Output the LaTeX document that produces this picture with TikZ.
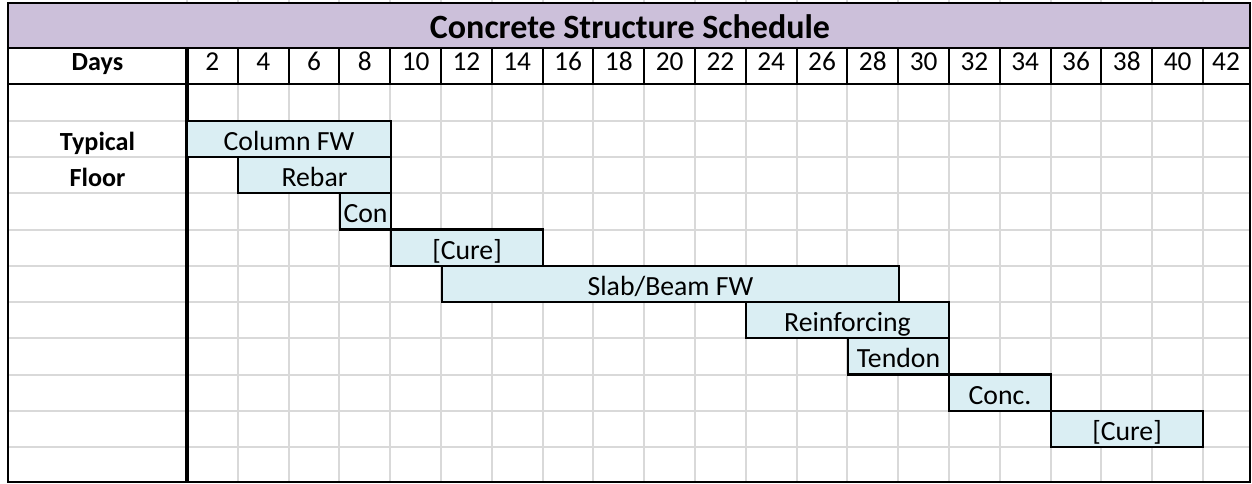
\documentclass[tikz,border=0pt]{standalone}
\usepackage{fontspec}
\setmainfont{Carlito}
\definecolor{titlefill}{HTML}{CCC0DA}
\definecolor{barfill}{HTML}{DAEEF3}
\definecolor{gridgray}{HTML}{D9D9D9}
\newcommand\ganttbar[6]{%
  \node[barbox, minimum width={(#3-#2)*0.75pt}, minimum height={(#5-#4)*0.75pt}]
    (#1) at ({(#2+#3)/2},{(#4+#5)/2}) {#6};}
\begin{document}
\begin{tikzpicture}[x=0.75pt,y=-0.75pt,
  gridline/.style={draw=gridgray, line width=1.5pt},
  blackline/.style={draw=black, line width=1.6pt},
  cell/.style={anchor=base, inner sep=0pt, font=\fontsize{20.5pt}{24pt}\selectfont},
  boldcell/.style={cell, font=\fontsize{19.6pt}{24pt}\selectfont\bfseries},
  titletext/.style={anchor=base, inner sep=0pt, font=\fontsize{25.5pt}{30pt}\selectfont\bfseries},
  barbox/.style={draw=black, line width=1.6pt, fill=barfill, inner sep=0pt,
    text height=17.25pt, text depth=0pt, font=\fontsize{20.8pt}{24pt}\selectfont}]
\useasboundingbox (0,0) rectangle (1252,483);
% title band
\fill[titlefill] (8,3) rectangle (1250,48);
% top ticks
\foreach \k in {0,...,20} \draw[gridline] ({187+50.8*\k},0) -- ({187+50.8*\k},3);
% grid
\foreach \k in {1,...,20} \draw[gridline] ({187+50.8*\k},84) -- ({187+50.8*\k},482);
\foreach \y in {121,157,193,229.5,266,302,338,374.5,411,447} \draw[gridline] (8,\y) -- (1250,\y);
% header lines
\draw[blackline] (8,48) -- (1250,48);
\draw[draw=black, line width=2.2pt] (8,84) -- (1250,84);
\foreach \k in {1,...,20} \draw[blackline] ({187+50.8*\k},48) -- ({187+50.8*\k},84);
\draw[draw=black, line width=2.4pt] (187,48) -- (187,482);
\draw[draw=black, line width=1.8pt] (8,3) rectangle (1250,482);
% title
\node[titletext] (title) at (630,38) {Concrete Structure Schedule};
% header
\node[boldcell] (days) at (97.5,70.5) {Days};
\foreach \k [evaluate=\k as \n using int(2*\k+2)] in {0,...,19}
  \node[cell] (h\n) at ({187+50.8*\k+25.4},70.5) {\n};
\node[cell] (h42) at (1226,70.5) {42};
% row labels
\node[boldcell] (typical) at (97.5,150) {Typical};
\node[boldcell] (floor) at (97.5,186) {Floor};
% bars
\ganttbar{cfw}{187}{391}{121}{157}{Column FW}
\ganttbar{rebar}{238}{391}{157}{193}{Rebar}
\ganttbar{con}{340}{391}{193}{229.5}{Con}
\ganttbar{cure1}{391}{543}{229.5}{266}{[Cure]}
\ganttbar{slab}{442}{899}{266}{302}{Slab/Beam FW}
\ganttbar{reinf}{746}{949}{302}{338}{Reinforcing}
\ganttbar{tendon}{848}{949}{338}{374.5}{Tendon}
\ganttbar{conc}{949}{1051}{374.5}{411}{Conc.}
\ganttbar{cure2}{1051}{1203}{411}{447}{[Cure]}
\end{tikzpicture}
\end{document}
